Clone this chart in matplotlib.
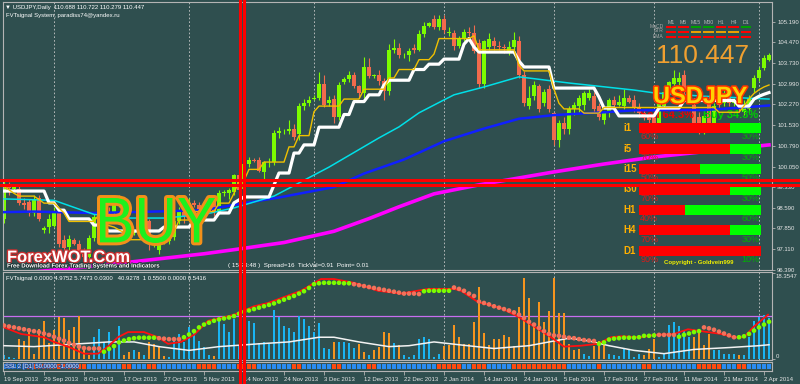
import numpy as np
import matplotlib
matplotlib.use("Agg")
import matplotlib.pyplot as plt
import matplotlib.patheffects as pe
from matplotlib.textpath import TextPath
from matplotlib.font_manager import FontProperties
from matplotlib.patches import PathPatch
from matplotlib.transforms import Affine2D
from matplotlib.lines import Line2D

plt.rcParams['font.family'] = ['Liberation Sans', 'DejaVu Sans']

# ---------------- DATA ----------------
opens = [98.20, 99.35, 99.25, 99.25, 98.75, 98.80, 98.40, 98.95, 97.80, 97.90,
         97.95, 98.40, 97.45, 97.20, 97.45, 97.30, 97.00, 96.85, 97.50, 98.25,
         98.50, 98.45, 98.40, 98.75, 98.80, 98.00, 97.70, 97.72, 98.20, 98.10,
         97.30, 97.10, 97.35, 97.42, 97.55, 98.10, 98.45, 98.30, 98.75, 98.70,
         98.50, 98.60, 98.85, 98.45, 99.10, 99.12, 99.15, 99.75, 99.25, 100.15,
         100.28, 100.30, 99.85, 100.20, 100.20, 101.25, 101.30, 101.33, 101.40, 101.20,
         102.20, 102.32, 102.45, 102.50, 103.00, 102.30, 102.45, 101.80, 103.05, 103.18,
         103.30, 102.90, 102.65, 103.60, 103.28, 103.30, 103.10, 102.75, 104.20, 104.28,
         104.00, 104.00, 104.25, 104.20, 104.75, 105.05, 105.30, 105.00, 105.30, 104.80,
         104.80, 104.35, 104.60, 104.85, 104.80, 104.45, 103.00, 104.30, 104.50, 104.35,
         104.30, 104.10, 104.30, 104.50, 103.30, 102.20, 102.55, 102.90, 102.30, 102.80,
         101.95, 101.00, 101.60, 101.40, 102.10, 102.20, 102.25, 102.50, 102.55, 102.20,
         101.70, 101.95, 102.40, 102.25, 102.20, 102.50, 102.40, 102.15, 101.95, 101.80,
         101.85, 101.50, 102.20, 102.70, 103.00, 103.05, 103.30, 102.70, 102.25, 101.80,
         101.30, 102.40, 101.40, 102.40, 102.30, 102.60, 102.30, 102.40, 102.00, 102.10,
         102.85, 103.20, 103.55, 103.85]
highs = [99.55, 99.50, 99.40, 99.35, 98.95, 98.90, 99.05, 99.05, 97.95, 98.35,
         98.60, 98.45, 97.60, 97.60, 97.50, 97.45, 97.15, 97.60, 98.35, 98.70,
         98.60, 98.60, 98.85, 99.05, 98.90, 98.20, 97.80, 98.30, 98.45, 98.20,
         97.60, 97.55, 97.50, 97.75, 98.30, 98.60, 98.55, 98.95, 98.85, 98.80,
         98.80, 98.95, 99.00, 99.20, 99.20, 99.30, 99.80, 99.90, 100.25, 100.40,
         100.35, 100.40, 100.25, 100.35, 101.35, 101.45, 101.40, 101.70, 101.55, 102.30,
         102.45, 102.55, 102.60, 103.40, 103.30, 102.55, 102.60, 103.05, 103.25, 103.45,
         103.40, 102.95, 103.95, 103.90, 103.35, 103.50, 103.20, 104.40, 104.60, 104.45,
         104.10, 104.25, 104.40, 104.90, 105.20, 105.20, 105.45, 105.45, 105.45, 105.00,
         104.90, 104.70, 104.95, 105.00, 105.10, 104.60, 104.55, 104.80, 104.65, 104.50,
         104.40, 104.50, 104.85, 104.70, 103.45, 102.90, 103.10, 103.00, 102.80, 102.95,
         102.00, 101.70, 101.80, 102.20, 102.35, 102.60, 102.75, 102.80, 102.70, 102.30,
         102.00, 102.50, 102.55, 102.60, 102.80, 102.60, 102.60, 102.30, 102.10, 101.95,
         102.00, 102.40, 102.80, 103.10, 103.50, 103.40, 103.50, 102.90, 102.50, 102.00,
         101.90, 102.60, 102.30, 102.50, 102.80, 102.70, 102.50, 102.60, 102.40, 102.60,
         103.30, 103.60, 104.00, 104.10]
lows = [98.05, 99.05, 99.20, 98.70, 98.55, 98.30, 98.30, 98.10, 97.70, 97.70,
        97.90, 97.20, 96.95, 97.10, 97.25, 96.90, 96.60, 96.70, 97.40, 98.15,
        98.35, 98.10, 98.30, 98.60, 97.90, 97.55, 97.60, 97.60, 97.90, 97.10,
        97.20, 96.95, 97.30, 97.30, 97.45, 98.00, 98.05, 98.20, 98.60, 98.40,
        98.35, 98.50, 98.30, 98.35, 99.00, 98.90, 99.05, 99.05, 99.15, 100.05,
        100.20, 99.85, 99.60, 100.05, 100.10, 101.05, 101.20, 101.20, 101.00, 101.00,
        102.05, 102.20, 102.40, 102.40, 102.15, 102.20, 101.60, 101.70, 103.00, 103.05,
        102.85, 102.50, 102.50, 103.20, 103.20, 102.95, 102.40, 102.60, 104.10, 103.90,
        103.90, 103.80, 104.10, 104.15, 104.65, 105.00, 104.95, 104.90, 104.80, 104.70,
        104.20, 104.25, 104.50, 104.70, 104.10, 102.85, 102.85, 104.20, 104.20, 104.20,
        104.10, 104.00, 104.20, 103.20, 102.20, 102.10, 102.40, 102.00, 102.20, 102.00,
        100.80, 100.75, 101.20, 101.20, 101.90, 102.00, 102.05, 102.40, 101.95, 101.70,
        101.55, 101.80, 102.15, 102.20, 102.10, 102.30, 102.00, 101.80, 101.70, 101.50,
        101.30, 101.40, 102.10, 102.60, 102.90, 102.90, 102.60, 102.30, 101.50, 101.20,
        101.20, 101.30, 101.30, 102.10, 102.20, 102.20, 102.20, 102.00, 101.90, 102.00,
        102.70, 103.10, 103.50, 103.80]
closes = [99.35, 99.30, 99.32, 98.75, 98.70, 98.40, 98.90, 98.20, 97.88, 98.20,
          98.45, 97.30, 97.15, 97.48, 97.30, 97.00, 96.85, 97.50, 98.25, 98.55,
          98.45, 98.40, 98.75, 98.80, 98.00, 97.70, 97.72, 98.20, 98.10, 97.30,
          97.40, 97.35, 97.42, 97.55, 98.10, 98.45, 98.30, 98.75, 98.70, 98.50,
          98.60, 98.85, 98.45, 99.10, 99.12, 99.20, 99.75, 99.20, 100.15, 100.28,
          100.25, 99.90, 100.20, 100.22, 101.25, 101.30, 101.33, 101.38, 101.10, 102.20,
          102.32, 102.40, 102.50, 103.00, 102.25, 102.40, 101.80, 102.95, 103.18, 103.30,
          102.90, 102.65, 103.60, 103.28, 103.30, 103.10, 102.75, 104.20, 104.28, 104.00,
          104.02, 104.15, 104.20, 104.75, 105.05, 105.15, 105.00, 105.30, 104.90, 104.85,
          104.35, 104.60, 104.85, 104.80, 104.15, 103.00, 104.50, 104.60, 104.35, 104.30,
          104.25, 104.30, 104.55, 103.30, 102.30, 102.50, 102.95, 102.10, 102.70, 102.10,
          101.00, 101.60, 101.40, 102.10, 102.25, 102.50, 102.65, 102.65, 102.10, 101.80,
          101.95, 102.40, 102.25, 102.35, 102.50, 102.35, 102.15, 101.95, 101.80, 101.70,
          101.55, 102.30, 102.70, 103.05, 103.20, 103.20, 102.70, 102.50, 101.60, 101.35,
          101.85, 101.40, 102.20, 102.25, 102.65, 102.30, 102.35, 102.10, 102.20, 102.50,
          103.20, 103.50, 103.90, 104.00]

# trailing lines: (first bar, last bar, level)
white_segs = [(0, 8, 99.18), (9, 10, 98.76), (11, 12, 98.50), (13, 17, 98.19), (18, 19, 97.97),
              (21, 31, 97.76), (32, 37, 97.90), (38, 42, 98.15), (43, 45, 98.40), (46, 46, 98.76),
              (48, 53, 98.97), (55, 57, 99.82), (58, 59, 100.53), (60, 62, 100.82), (63, 67, 101.45),
              (68, 69, 101.90), (70, 72, 102.36), (73, 75, 102.60), (76, 76, 102.95), (77, 81, 103.12),
              (82, 84, 103.50), (85, 87, 103.69), (88, 91, 103.87), (92, 92, 104.40), (93, 93, 104.60),
              (94, 94, 104.30), (95, 102, 104.12), (103, 103, 103.80), (104, 109, 103.59),
              (110, 118, 102.84), (119, 119, 102.52), (120, 122, 102.13), (123, 130, 101.85),
              (131, 135, 102.13), (136, 146, 102.40), (147, 149, 102.20), (150, 150, 102.45),
              (151, 151, 102.55), (152, 152, 102.62), (153, 153, 102.68)]
yellow_segs = [(0, 0, 99.35), (2, 2, 99.10), (3, 6, 99.00), (8, 10, 98.75), (12, 12, 98.40),
               (13, 18, 98.10), (19, 19, 98.35), (20, 20, 98.00), (22, 22, 97.90), (24, 24, 97.70),
               (25, 31, 97.45), (32, 34, 97.70), (35, 37, 98.15), (38, 42, 98.45), (43, 45, 98.75),
               (46, 46, 99.10), (47, 48, 99.55), (49, 51, 99.95), (52, 56, 100.21), (57, 58, 100.75),
               (59, 61, 101.15), (62, 62, 102.00), (63, 67, 102.20), (68, 71, 102.45), (72, 76, 102.80),
               (77, 78, 103.20), (79, 82, 103.50), (83, 85, 103.85), (86, 86, 104.05), (87, 93, 104.60),
               (94, 94, 104.70), (95, 102, 104.20), (103, 103, 103.65), (104, 109, 103.45),
               (110, 110, 102.80), (111, 111, 102.30), (112, 115, 102.10), (116, 119, 101.95),
               (120, 142, 102.15), (143, 147, 101.98), (148, 148, 102.20), (149, 149, 102.45),
               (150, 150, 102.65), (151, 151, 102.78), (152, 152, 102.88), (153, 153, 102.95)]
cyan_x = [0, 10, 18, 25, 32, 40, 46, 54, 65, 75, 79, 83, 88, 90, 96, 103, 108, 113, 126, 130, 140, 153]
cyan_y = [98.90, 98.85, 98.35, 98.22, 98.22, 98.35, 98.58, 99.00, 100.03, 101.07, 101.46, 101.96,
          102.42, 102.60, 102.88, 103.24, 103.13, 103.02, 102.77, 102.67, 102.55, 102.45]
blue_x = [0, 6, 13, 18, 30, 40, 47, 55, 60, 66, 72, 80, 88, 96, 103, 110, 120, 126, 140, 146, 153]
blue_y = [98.43, 98.45, 98.42, 98.40, 98.45, 98.50, 98.72, 98.95, 99.12, 99.32, 99.80, 100.30,
          100.95, 101.40, 101.75, 101.88, 101.98, 102.05, 102.06, 102.13, 102.22]
mag_x = [0, 20, 30, 40, 47, 56, 66, 73, 79, 86, 95, 110, 120, 130, 140, 153]
mag_y = [96.20, 96.55, 96.75, 96.95, 97.12, 97.35, 97.75, 98.20, 98.62, 99.08, 99.40, 99.86,
         100.14, 100.39, 100.58, 100.82]

price_ticks = [105.190, 104.470, 103.730, 102.990, 102.270, 101.530, 100.790, 100.050,
               99.330, 98.590, 97.850, 97.110, 96.390]
grid_idx = [10, 37, 62, 88, 110, 130, 151]
date_idx = [0, 8, 16, 24, 32, 40, 48, 56, 64, 72, 80, 88, 96, 104, 112, 120, 128, 136, 144, 152]
date_labels = ['19 Sep 2013', '29 Sep 2013', '8 Oct 2013', '17 Oct 2013', '27 Oct 2013',
               '5 Nov 2013', '14 Nov 2013', '24 Nov 2013', '3 Dec 2013', '12 Dec 2013',
               '22 Dec 2013', '2 Jan 2014', '14 Jan 2014', '24 Jan 2014', '5 Feb 2014',
               '17 Feb 2014', '27 Feb 2014', '11 Mar 2014', '21 Mar 2014', '2 Apr 2014']

# oscillator sub-window
hist_vals = [1.0, 0.5, 0.3, 4.3, 4.0, 5.8, 1.2, 6.4, 8.2, 3.5,
             6.2, 9.1, 8.9, 6.2, 6.9, 9.3, 2.7, 1.0, 4.7, 6.4,
             3.5, 5.8, 2.7, 7.2, 1.0, 1.5, 2.0, 1.5, 1.0, 3.7,
             3.3, 2.7, 0.8, 0.5, 4.7, 5.4, 3.7, 6.8, 5.8, 4.0,
             2.7, 1.0, 0.8, 8.2, 7.6, 5.8, 8.5, 3.0, 6.0, 8.2,
             7.8, 3.5, 3.7, 3.3, 10.5, 9.1, 7.0, 6.6, 5.8, 9.3,
             8.5, 7.0, 5.8, 7.8, 2.5, 2.2, 3.7, 3.7, 3.7, 3.5,
             2.5, 3.3, 1.5, 1.0, 2.0, 2.7, 5.8, 5.6, 3.5, 3.0,
             0.9, 0.5, 0.9, 4.3, 4.7, 4.3, 0.5, 1.2, 2.9, 3.0,
             7.4, 4.7, 3.3, 3.3, 8.0, 15.5, 5.6, 3.0, 4.3, 4.3,
             5.2, 4.7, 2.9, 11.1, 17.3, 13.0, 7.8, 12.2, 8.0, 10.3,
             17.3, 9.8, 9.8, 3.3, 2.0, 2.3, 1.2, 0.6, 2.9, 3.8,
             3.3, 1.2, 0.9, 0.6, 2.3, 2.0, 0.5, 1.2, 0.9, 2.3,
             4.3, 0.5, 1.2, 7.4, 8.0, 7.2, 6.0, 4.7, 4.7, 6.4,
             3.0, 5.4, 2.0, 2.0, 1.2, 1.2, 1.2, 0.9, 0.9, 4.7,
             8.2, 9.1, 9.5, 8.8]
hist_col = ("bbbooooooo" "oooooooobb" "bbbboobobo" "ooobbbbbbb" "bbobbbbbbb"
            "bbbbbbbbbb" "bbbbbbobbb" "booboooobo" "bbbbbbbboo" "oooooooooo"
            "oooooooooo" "oooooobboo" "obbbbbbboo" "obbbbbbboo" "oobbbbbobb" "bbbb")
dot_vals = [7.2, 7.0, 6.8, 6.6, 6.4, 6.2, 6.0, 5.8, 5.5,
            5.2, 4.8, 4.4, 4.0, 3.5, 3.1, 2.7,
            2.4, 2.3, 2.3, 2.3,
            1.6, 2.2, 2.8,
            3.6, 4.0, 4.3, 4.5, 4.6, 4.6, 4.6, 4.6,
            4.5, 4.4, 4.3, 4.3, 4.3,
            4.7, 5.3, 6.0, 6.8,
            7.4, 7.8, 8.2, 8.5, 8.7, 8.9, 9.2,
            9.7, 10.1, 10.4, 10.7, 11.0,
            11.3, 11.6, 11.9, 12.3, 12.7, 13.1, 13.5, 14.0, 14.5, 15.2,
            16.0, 16.2, 16.3, 16.3, 16.3, 16.3, 16.2, 16.2,
            16.0, 15.8, 15.6, 15.4, 15.2, 15.0, 14.8, 14.6, 14.4, 14.2,
            14.0, 14.0, 14.0, 13.9,
            14.5, 14.6, 14.6, 14.6, 14.6, 14.6,
            15.3, 15.0, 14.6, 14.0, 13.5,
            12.3, 12.0, 11.7, 11.3, 11.0, 10.7, 10.4, 10.0,
            9.5, 8.8, 8.0, 7.4, 6.7, 6.0,
            5.4, 5.1, 5.0, 4.8, 4.6, 4.5, 4.3, 4.1, 4.0, 3.9,
            3.3, 3.6,
            4.2, 4.4, 4.5, 4.6, 4.6, 4.6, 4.7,
            5.0, 5.0, 5.1,
            5.2, 5.2, 5.2, 5.2,
            4.8, 5.2, 5.5, 5.8, 6.0,
            6.8, 6.6, 6.3, 5.9, 5.5, 5.1, 4.7,
            4.7, 4.9, 5.4, 6.1, 6.8, 7.4, 8.0]
dot_col = ("rrrrrrrrr" "rrrrrrr" "rrrr" "ggg" "gggggggg" "rrrrr" "gggg" "ggggggg" "ggggg"
           "gggggggggg" "gggggggg" "rrrrrrrrrr" "rrrr" "gggggg" "rrrrr" "rrrrrrrr" "rrrrrr"
           "rrrrrrrrrr" "gg" "ggggggg" "ggg" "rrrr" "ggggg" "rrrrrrr" "ggggggg")
red_x = [0, 3.4, 8, 10, 12.8, 16, 18.8, 20.8, 22.8, 24.8, 28, 30.8, 32.8, 35.4, 38, 40.8, 43.4, 46,
         50, 52.8, 59.4, 63.4, 66, 70, 74.8, 79.4, 84.8, 90, 91.4, 94.8, 99.4, 102.8, 106, 109.4,
         112, 115.4, 118.8, 121.4, 123.4, 127.4, 130, 134, 136.8, 139.4, 143.4, 146, 148, 150, 152.8]
red_y = [6.8, 5.4, 4.7, 3.7, 2.7, 1.2, 1.2, 2.7, 4.7, 5.8, 5.8, 4.7, 3.3, 3.7, 5.2, 8.2, 8.8, 9.5,
         11.3, 12.0, 14.6, 17.1, 17.1, 16.3, 14.6, 14.0, 15.0, 15.0, 14.6, 12.2, 10.9, 9.1, 7.0, 4.7,
         2.7, 2.9, 3.3, 4.7, 4.9, 4.7, 5.2, 5.4, 6.4, 6.0, 5.4, 4.7, 4.7, 7.0, 9.5]
swhite_x = [0, 6, 15, 21, 26, 31, 37, 43, 51, 57, 63, 66, 71, 77, 81, 86, 91, 98, 105, 109, 113,
            117, 121, 126, 132, 138, 145, 151, 153]
swhite_y = [2.9, 2.7, 3.3, 3.7, 3.7, 2.7, 1.9, 2.7, 3.3, 3.7, 4.7, 4.7, 3.7, 2.7, 2.9, 3.7, 3.1,
            2.3, 2.9, 3.7, 4.5, 3.9, 2.9, 1.9, 1.2, 2.1, 2.5, 2.9, 3.1]
osc_level = 9.25
osc_max = 18.3547

ssl_sig = ("bbbbb" "rrrrrrrrrrrr" "bbbbbbb" "rr" "bbb" "rr" "bbbbbbbb" "rrrr" "bbbb" "rrrr"
           "bbbbbbb" "rr" "bbbbbb" "rr" "bbbbb" "rr" "bbbb" "bbbbbbbb" "rrrrr" "bb" "rrr"
           "bbbbb" "rrrrrrrrrrr" "bbbbbb" "r" "bbbbbbbb" "rr" "bbbbbbbbb" "rrrrr" "bbb" "rr" "bbbbb")

# dashboard
tf_labels = ['M1', 'M5', 'M15', 'M30', 'H1', 'H4', 'D1']
sig_rows = ['MaCD', 'STR', 'EMA']
sig_macd = "rrggrrg"
sig_str = "rroooor"
sig_ema = "rrrrrrr"
row_labels = ['i1', 'i5', 'i15', 'i30', 'H1', 'H4', 'D1']
red_frac = [0.746, 0.746, 0.50, 0.746, 0.377, 0.746, 1.0]
sell_pct = [60, 70, 50, 70, 40, 70, 90]
buy_pct = [30, 30, 50, 30, 60, 30, 10]

# ---------------- FIGURE ----------------
W, H = 800, 384
BG = '#2F4F4F'
SP = '#B4B4B4'
TXT = '#E6E6E6'
fig = plt.figure(figsize=(W / 100, H / 100), dpi=100, facecolor=BG)
PX = Affine2D().scale(1.0 / W, -1.0 / H).translate(0, 1) + fig.transFigure


def px_axes(x0, y0, x1, y1):
    a = fig.add_axes([x0 / W, 1 - y1 / H, (x1 - x0) / W, (y1 - y0) / H])
    a.set_facecolor(BG)
    for s in a.spines.values():
        s.set_color(SP)
        s.set_linewidth(0.8)
    a.tick_params(colors=SP, labelcolor=TXT, labelsize=4.3, width=0.6, length=2.5, pad=1.2)
    return a


def seg_xy(segs):
    xs, ys = [], []
    for a, b, v in segs:
        xs += [a, b]
        ys += [v, v]
    return xs, ys


XL = (-0.2, 153.6)
idx = np.arange(len(closes))

# main price window
ax = px_axes(3, 2, 772, 270)
ax.set_xlim(*XL)
ax.set_ylim(96.373, 105.90)
ax.set_xticks([])
ax.yaxis.tick_right()
ax.set_yticks(price_ticks)
ax.set_yticklabels([f'{v:.3f}' for v in price_ticks])
for g in grid_idx:
    ax.axvline(g, color='#C8C8C8', lw=0.6, ls=(0, (2, 2.5)), zorder=0.5)

o = np.array(opens); c = np.array(closes); hi = np.array(highs); lo = np.array(lows)
cc = np.where(c >= o, '#7CFC00', '#F26A4C')
ax.vlines(idx, lo, hi, colors=cc, lw=0.8, zorder=2)
ax.bar(idx, np.maximum(np.abs(c - o), 0.03), bottom=np.minimum(o, c), width=0.62,
       color=cc, edgecolor='none', zorder=2.1)

ax.plot(mag_x, mag_y, color='#FF00FF', lw=2.6, zorder=3)
ax.plot(blue_x, blue_y, color='#1020FF', lw=1.8, zorder=3.1)
ax.plot(cyan_x, cyan_y, color='#00E0E8', lw=1.1, zorder=3.2)
wx, wy = seg_xy(white_segs)
ax.plot(wx, wy, color='white', lw=2.3, zorder=3.3)
yx, yy = seg_xy(yellow_segs)
ax.plot(yx, yy, color='#F0C000', lw=1.0, zorder=3.4)

# texts inside main window
ax.text(5, 7.5, '\u25BC USDJPY,Daily  110.688 110.722 110.279 110.447', transform=PX,
        color='white', fontsize=4.3, va='center', family=['Liberation Sans', 'DejaVu Sans'])
ax.text(6, 15.5, 'FVTsignal System, paradiss74@yandex.ru', transform=PX,
        color='white', fontsize=4.3, va='center')
ax.text(640, 118, 'Sell 64.3%', transform=PX, color='#F00000', fontsize=7.9,
        fontweight='bold', va='baseline', zorder=2.6)
ax.text(703, 118, 'Buy 34.3%', transform=PX, color='#00D000', fontsize=7.9,
        fontweight='bold', va='baseline', zorder=2.6)
ax.text(656, 63, '110.447', transform=PX, color='#F0A030', fontsize=19, va='baseline', zorder=6)
ax.text(653, 103, 'USDJPY', transform=PX, color='#FFD200', fontsize=17, fontweight='bold',
        va='baseline', zorder=6,
        path_effects=[pe.withStroke(linewidth=2.2, foreground='#FF3000')])
ax.text(7, 262, 'ForexWOT.Com', transform=PX, color='white', fontsize=11.9, fontweight='bold',
        va='baseline', zorder=7,
        path_effects=[pe.withStroke(linewidth=2.0, foreground='#C83030')])
ax.text(7, 266, 'Free Download Forex Trading Systems and Indicators', transform=PX,
        color='white', fontsize=4.3, fontweight='bold', va='center', zorder=7,
        path_effects=[pe.withStroke(linewidth=1.2, foreground='#1E3434')])
ax.text(228, 266, '( 15:33:48 )  Spread=16  TickVal=0.91  Point= 0.01', transform=PX,
        color='white', fontsize=4.5, va='center', zorder=7)

# oscillator window
sub = px_axes(3, 272, 772, 360)
sub.set_xlim(*XL)
sub.set_ylim(-0.15, 18.6)
sub.set_xticks([])
sub.yaxis.tick_right()
sub.set_yticks([0, osc_max])
sub.set_yticklabels(['', ''])
for g in grid_idx:
    sub.axvline(g, color='#C8C8C8', lw=0.6, ls=(0, (2, 2.5)), zorder=0.5)
sub.axhline(osc_level, color='#C86EF0', lw=0.9, zorder=1)
HC = {'o': '#F7941D', 'b': '#1AB4F2'}
sub.bar(idx, hist_vals, width=0.5, color=[HC[k] for k in hist_col], zorder=2)
sub.plot(swhite_x, swhite_y, color='#F2F2F2', lw=1.1, zorder=3)
sub.plot(red_x, red_y, color='#FF1010', lw=1.3, zorder=4)
DC = {'r': '#F4715A', 'g': '#7CFC00'}
sub.scatter(idx, dot_vals, s=11, c=[DC[k] for k in dot_col], linewidths=0, zorder=5)
sub.text(6, 278.5, 'FVTsignal 0.0000 4.9752 5.7473 0.0300   40.9278  1 0.5500 0.0000 0.5416',
         transform=PX, color='white', fontsize=4.3, va='center')
fig.text(776, 277, '18.3547', transform=PX, color=TXT, fontsize=4.3, va='center')
fig.text(776, 356, '0', transform=PX, color=TXT, fontsize=4.3, va='center')

# SSL strip
ssl = px_axes(3, 362, 772, 371)
ssl.set_xlim(*XL)
ssl.set_ylim(0, 1)
ssl.set_yticks([])
SC = {'b': '#2A8CF0', 'r': '#FF4A10'}
ssl.bar(idx, 0.5, bottom=0.25, width=0.8, color=[SC[k] for k in ssl_sig], zorder=2)
ssl.set_xticks(date_idx)
ssl.set_xticklabels(date_labels, ha='left')
ssl.tick_params(axis='x', length=3, pad=1.5)
ssl.text(5, 366.5, 'SSL 2 [D1] 50.0000 -1.0000', transform=PX, color='#E8F0FF',
         fontsize=4.3, va='center', zorder=5,
         path_effects=[pe.withStroke(linewidth=1.0, foreground='#2050A0')])

# MTF signal matrix
mtf = px_axes(664.5, 24.5, 752.5, 39.5)
mtf.set_xlim(-0.5, 6.5)
mtf.set_ylim(2.5, -0.5)
mtf.axis('off')
mtf.patch.set_alpha(0)
MC = {'r': '#FF0000', 'g': '#00A000', 'o': '#E8A000'}
cols = np.arange(len(tf_labels))
for r, sig in enumerate([sig_macd, sig_str, sig_ema]):
    mtf.bar(cols, 0.55, bottom=r - 0.275, width=0.84, color=[MC[k] for k in sig])
for k, lab in enumerate(tf_labels):
    mtf.text(k, -0.95, lab, color='#B8B8B8', fontsize=3.8, ha='center', va='center', clip_on=False)
for r, lab in enumerate(sig_rows):
    mtf.text(-0.55, r - 0.2, lab, color='#A8A8A8', fontsize=3.6, ha='right', va='center', clip_on=False)

# strength bars panel
pan = px_axes(639, 118, 761, 261)
pan.set_xlim(0, 1)
pan.set_ylim(6.5, -0.5)
pan.axis('off')
pan.patch.set_alpha(0)
rows = np.arange(len(row_labels))
rf = np.array(red_frac)
pan.barh(rows, rf, height=0.49, color='#FF0000', zorder=5)
pan.barh(rows, 1 - rf, left=rf, height=0.49, color='#00FF00', zorder=5)
for r in rows:
    pan.text(-0.125, r, row_labels[r], color='#FFB000', fontsize=7, fontweight='bold',
             ha='left', va='center', clip_on=False, zorder=6)
    pan.text(0.01, r + 0.43, f'{sell_pct[r]}%', color='#E01818', fontsize=6.5,
             ha='left', va='center', clip_on=False, zorder=6)
    pan.text(0.99, r + 0.43, f'{buy_pct[r]}%', color='#00B400', fontsize=6.5,
             ha='right', va='center', clip_on=False, zorder=6)
pan.text(0.49, 6.58, 'Copyright - Goldvein999', color='#F0F000', fontsize=4.3,
         fontweight='bold', ha='center', va='center', clip_on=False, zorder=6)

# big BUY label (outlined)
fp = FontProperties(family='Liberation Sans')
tp = TextPath((0, 0), 'BUY', size=100, prop=fp)
ext = tp.get_extents()
bx0, btop, bw, bh = 100, 198, 115, 45
tr = (Affine2D().translate(-ext.x0, -ext.y0)
      .scale(bw / ext.width, bh / ext.height).translate(bx0, H - btop - bh))
fig.add_artist(PathPatch(tp, transform=tr, facecolor='#F39019', edgecolor='#F39019',
                         lw=4.3, joinstyle='round', zorder=15))
fig.add_artist(PathPatch(tp, transform=tr, facecolor='#1EF01E', edgecolor='none', zorder=15.1))

# crosshair
for yv in (180.5, 184.5):
    fig.add_artist(Line2D([0, 1], [1 - yv / H] * 2, transform=fig.transFigure,
                          color='#FF0000', lw=2.2, zorder=20))
for xv in (239.5, 243.5):
    fig.add_artist(Line2D([xv / W] * 2, [0, 1], transform=fig.transFigure,
                          color='#FF0000', lw=2.2, zorder=20))

fig.savefig('out.png', dpi=100, facecolor=BG)
